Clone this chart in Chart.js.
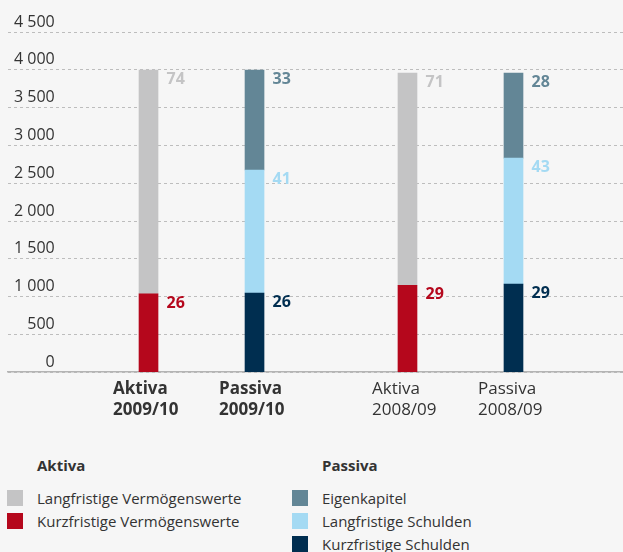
<!DOCTYPE html>
<html>
<head>
<meta charset="utf-8">
<script src="https://cdn.jsdelivr.net/npm/chart.js@4"></script>
<style>
  body { margin: 0; background: #f6f6f6; font-family: "Open Sans", sans-serif; color: #333; }
  #wrap { position: relative; width: 623px; height: 427px; }
  .col { position: absolute; top: 455px; }
  .col h4 { margin: 0 0 12px 30px; font-size: 15px; line-height: 20px; font-weight: bold; }
  .row { display: flex; height: 23px; line-height: 23px; font-size: 15px; }
  .sw { width: 16px; height: 16px; margin: 3px 14px 0 0; }
</style>
</head>
<body>
<div id="wrap"><canvas id="bilanz"></canvas></div>
<div class="col" id="legAktiva" style="left:7px"><h4>Aktiva</h4></div>
<div class="col" id="legPassiva" style="left:292px"><h4>Passiva</h4></div>
<script>
// Bilanzstruktur, Werte in Mio. CHF (aus der Grafik geschätzt)
const barLabels = [['Aktiva', '2009/10'], ['Passiva', '2009/10'], ['Aktiva', '2008/09'], ['Passiva', '2008/09']];
const periodIndex = [0, 0, 1, 1];
const boldBars = [true, true, false, false];

const kurzVerm   = [1035, null, 1150, null];
const langVerm   = [2960, null, 2805, null];
const kurzSchuld = [null, 1045, null, 1165];
const langSchuld = [null, 1630, null, 1667];
const eigenKap   = [null, 1322, null, 1125];

// Anteile in %, wie in der Grafik beschriftet
const kurzVermPct   = [26, null, 29, null];
const langVermPct   = [74, null, 71, null];
const kurzSchuldPct = [null, 26, null, 29];
const langSchuldPct = [null, 41, null, 43];
const eigenKapPct   = [null, 33, null, 28];

const yTicks = [0, 500, 1000, 1500, 2000, 2500, 3000, 3500, 4000, 4500];

// bar positions on the x scale: one unit between bars, extra gap between years
const yearGap = 0.443;
const xPos = barLabels.map((l, i) => i + periodIndex[i] * yearGap);

const datasets = [
  { label: 'Kurzfristige Vermögenswerte', data: kurzVerm, shares: kurzVermPct, backgroundColor: '#b5071c', side: 'aktiva' },
  { label: 'Langfristige Vermögenswerte', data: langVerm, shares: langVermPct, backgroundColor: '#c4c4c5', side: 'aktiva' },
  { label: 'Kurzfristige Schulden', data: kurzSchuld, shares: kurzSchuldPct, backgroundColor: '#002e50', side: 'passiva' },
  { label: 'Langfristige Schulden', data: langSchuld, shares: langSchuldPct, backgroundColor: '#a4daf3', side: 'passiva' },
  { label: 'Eigenkapitel', data: eigenKap, shares: eigenKapPct, backgroundColor: '#638696', side: 'passiva' },
];

// percentage labels right of each segment
const shareLabels = {
  id: 'shareLabels',
  afterDatasetsDraw(chart) {
    const ctx = chart.ctx;
    ctx.save();
    ctx.font = 'bold 16px "Open Sans"';
    ctx.textAlign = 'left';
    ctx.textBaseline = 'alphabetic';
    chart.data.datasets.forEach((ds, di) => {
      chart.getDatasetMeta(di).data.forEach((bar, i) => {
        if (ds.data[i] == null) return;
        ctx.fillStyle = ds.backgroundColor;
        ctx.fillText(String(ds.shares[i]), bar.x + 18, bar.y + 14);
      });
    });
    ctx.restore();
  }
};

const fmt = v => String(v).replace(/\B(?=(\d{3})+(?!\d))/g, ' ');

new Chart(document.getElementById('bilanz'), {
  type: 'bar',
  data: { labels: xPos, datasets: datasets },
  plugins: [shareLabels],
  options: {
    responsive: true,
    maintainAspectRatio: false,
    animation: false,
    layout: { padding: { top: 32, left: 0, right: 0, bottom: 0 } },
    datasets: { bar: { barThickness: 19, skipNull: true } },
    plugins: { legend: { display: false }, tooltip: { enabled: false } },
    scales: {
      x: {
        type: 'linear',
        stacked: true,
        offset: false,
        bounds: 'data',
        min: -1.3255,
        max: 4.476,
        grid: { display: false, drawTicks: false },
        border: { display: true, color: '#b4b4b4', width: 1.5 },
        afterBuildTicks: scale => { scale.ticks = xPos.map(v => ({ value: v })); },
        ticks: {
          autoSkip: false,
          maxRotation: 0,
          align: 'start',
          labelOffset: -35.5,
          padding: 7,
          color: '#333',
          font: c => ({ family: '"Open Sans"', size: 17, weight: boldBars[c.index] ? 'bold' : 'normal' }),
          callback: (v, i) => barLabels[i]
        }
      },
      y: {
        stacked: true,
        min: 0,
        max: 4500,
        afterBuildTicks: scale => { scale.ticks = yTicks.map(v => ({ value: v })); },
        afterFit: scale => { scale.width = 8; },
        grid: { color: '#bdbdbd', lineWidth: 1, drawTicks: false },
        border: { display: false, dash: [3, 3] },
        ticks: {
          mirror: true,
          crossAlign: 'far',
          padding: 6,
          labelOffset: -10,
          color: '#333',
          font: { family: '"Open Sans"', size: 16 },
          callback: v => fmt(v)
        }
      }
    }
  }
});

// legend in two columns
datasets.slice().reverse().forEach(ds => {
  const row = document.createElement('div');
  row.className = 'row';
  row.innerHTML = '<div class="sw" style="background:' + ds.backgroundColor + '"></div><span>' + ds.label + '</span>';
  document.getElementById(ds.side === 'aktiva' ? 'legAktiva' : 'legPassiva').appendChild(row);
});
</script>
</body>
</html>
